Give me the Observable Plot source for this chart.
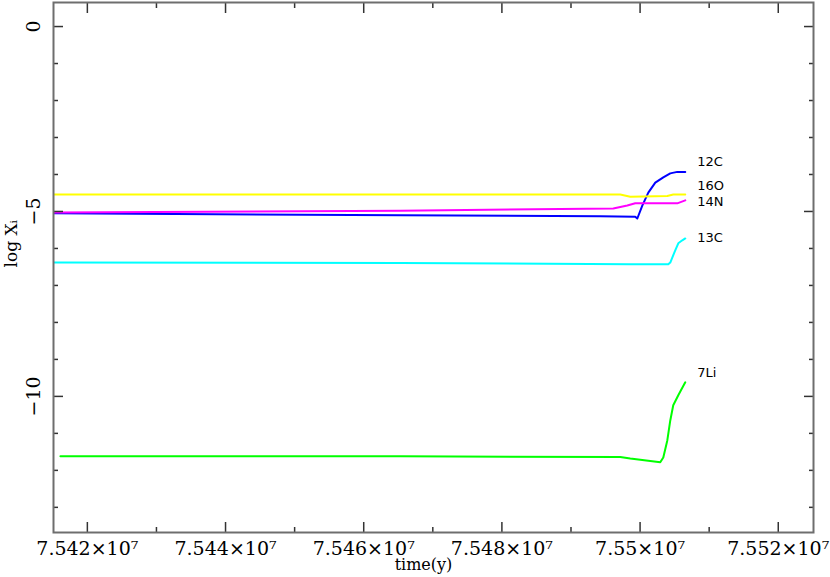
<!DOCTYPE html>
<html>
<head>
<meta charset="utf-8">
<script src="https://cdn.jsdelivr.net/npm/d3@7"></script>
<script src="https://cdn.jsdelivr.net/npm/@observablehq/plot@0.6"></script>
<style>
  html, body { margin: 0; padding: 0; background: #fff; }
  #chart svg { display: block; }
</style>
</head>
<body>
<div id="chart"></div>
<script>
// ---- data ----
const c12Time = [75415200, 75465300, 75494240, 75499300, 75499600, 75500320, 75501190, 75502200, 75503360, 75504370, 75505380, 75506540];
const c12Log  = [-5.05, -5.10, -5.13, -5.14, -5.19, -4.84, -4.49, -4.22, -4.08, -3.97, -3.93, -3.93];

const o16Time = [75415200, 75465300, 75497130, 75498580, 75503940, 75504800, 75506540];
const o16Log  = [-4.54, -4.54, -4.54, -4.60, -4.58, -4.54, -4.54];

const n14Time = [75415200, 75465300, 75496120, 75498150, 75499300, 75505380, 75506540];
const n14Log  = [-5.03, -4.98, -4.92, -4.84, -4.78, -4.78, -4.70];

const c13Time = [75415200, 75465300, 75498580, 75504080, 75504370, 75505090, 75505530, 75506110, 75506540];
const c13Log  = [-6.38, -6.39, -6.43, -6.43, -6.38, -6.05, -5.86, -5.78, -5.73];

const li7Time = [75416100, 75465300, 75497130, 75498580, 75502920, 75503360, 75503940, 75504370, 75504800, 75505530, 75506540];
const li7Log  = [-11.62, -11.62, -11.64, -11.68, -11.78, -11.65, -11.19, -10.65, -10.24, -9.97, -9.62];

const seriesNames  = ["12C", "16O", "14N", "13C", "7Li"];
const seriesColors = ["#0000ff", "#ffff00", "#ff00ff", "#00ffff", "#00ff00"];
const labelTime = 75508280;
const labelLog  = [-3.65, -4.30, -4.73, -5.70, -9.35];

const xMajor = [75420000, 75440000, 75460000, 75480000, 75500000, 75520000];
const xMajorLabels = ["7.542×10⁷", "7.544×10⁷", "7.546×10⁷", "7.548×10⁷", "7.55×10⁷", "7.552×10⁷"];
const xMinor = [75430000, 75450000, 75470000, 75490000, 75510000];
const yMajor = [0, -5, -10];
const yMajorLabels = ["0", "−5", "−10"];
const yMinor = [-1, -2, -3, -4, -6, -7, -8, -9, -11, -12, -13];
const xTitle = "time(y)";
const yTitle = "log Xᵢ";

// ---- build tables ----
const times = [c12Time, o16Time, n14Time, c13Time, li7Time];
const logs  = [c12Log, o16Log, n14Log, c13Log, li7Log];
const rows = [];
seriesNames.forEach((name, i) => {
  times[i].forEach((t, j) => rows.push({name, t, v: logs[i][j]}));
});
const labels = seriesNames.map((name, i) => ({name, t: labelTime, v: labelLog[i]}));
const xLab = d => xMajorLabels[xMajor.indexOf(d)];
const yLab = d => yMajorLabels[yMajor.indexOf(d)];
const blank = () => "";

const tickStyle = {stroke: "#333", strokeWidth: 1.5, label: null};
const serif = "DejaVu Serif, serif";

const chart = Plot.plot({
  width: 830,
  height: 577,
  marginLeft: 53,
  marginRight: 17,
  marginTop: 2,
  marginBottom: 45,
  style: {background: "#fff", color: "#000", fontFamily: serif},
  x: {domain: [75415100, 75525100]},
  y: {domain: [-13.68, 0.65]},
  color: {domain: seriesNames, range: seriesColors},
  marks: [
    // series
    Plot.line(rows, {x: "t", y: "v", z: "name", stroke: "name", strokeWidth: 2}),
    // inward ticks on all four sides
    Plot.axisX({anchor: "bottom", ticks: xMajor, tickSize: -10, tickFormat: blank, ...tickStyle}),
    Plot.axisX({anchor: "bottom", ticks: xMinor, tickSize: -5, tickFormat: blank, ...tickStyle}),
    Plot.axisX({anchor: "top", ticks: xMajor, tickSize: -10, tickFormat: blank, ...tickStyle}),
    Plot.axisX({anchor: "top", ticks: xMinor, tickSize: -5, tickFormat: blank, ...tickStyle}),
    Plot.axisY({anchor: "left", ticks: yMajor, tickSize: -10, tickFormat: blank, ...tickStyle}),
    Plot.axisY({anchor: "left", ticks: yMinor, tickSize: -5, tickFormat: blank, ...tickStyle}),
    Plot.axisY({anchor: "right", ticks: yMajor, tickSize: -10, tickFormat: blank, ...tickStyle}),
    Plot.axisY({anchor: "right", ticks: yMinor, tickSize: -5, tickFormat: blank, ...tickStyle}),
    // tick labels
    Plot.axisX({anchor: "bottom", ticks: xMajor, tickSize: 0, tickPadding: 9, tickFormat: xLab, label: null, fontSize: 19, fontFamily: serif, fill: "#000"}),
    Plot.axisY({anchor: "left", ticks: yMajor, tickSize: 0, tickPadding: 14, tickRotate: -90, tickFormat: yLab, label: null, fontSize: 19, fontFamily: serif, fill: "#000"}),
    // frame
    Plot.frame({stroke: "#6e6e6e", strokeWidth: 2}),
    // axis titles
    Plot.text([xTitle], {text: d => d, frameAnchor: "bottom", dx: -10, dy: 37, fontSize: 16, fontFamily: serif, fill: "#000"}),
    Plot.text([yTitle], {text: d => d, frameAnchor: "left", dx: -42, rotate: -90, fontSize: 17, fontFamily: serif, fill: "#000"}),
    // series labels
    Plot.text(labels, {x: "t", y: "v", text: "name", textAnchor: "start", fontSize: 13, letterSpacing: 1.5, fontFamily: "DejaVu Sans, sans-serif", fill: "#000"})
  ]
});
document.getElementById("chart").appendChild(chart);
</script>
</body>
</html>
